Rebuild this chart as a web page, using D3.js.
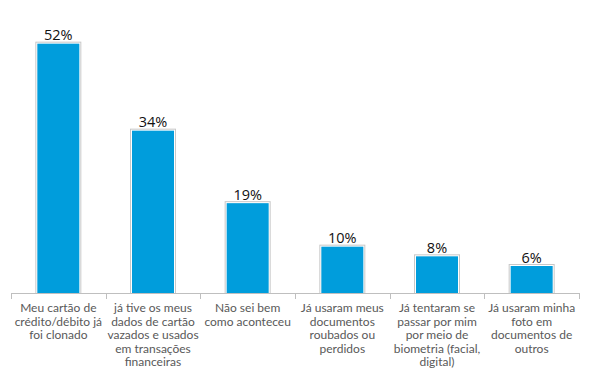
<!DOCTYPE html>
<html><head><meta charset="utf-8">
<script src="https://cdn.jsdelivr.net/npm/d3@7"></script>
<style>body{margin:0;background:#fff}</style>
</head><body>
<svg id="c" width="600" height="388"></svg>
<script>
const categories = [
  ["Meu cartão de","crédito/débito já","foi clonado"],
  ["já tive os meus","dados de cartão","vazados e usados","em transações","financeiras"],
  ["Não sei bem","como aconteceu"],
  ["Já usaram meus","documentos","roubados ou","perdidos"],
  ["Já tentaram se","passar por mim","por meio de","biometria (facial,","digital)"],
  ["Já usaram minha","foto em","documentos de","outros"]
];
const values = [52, 34, 19, 10, 8, 6];
const valueLabels = ["52%","34%","19%","10%","8%","6%"];

const svg = d3.select("#c");
const x = d3.scaleBand().domain(d3.range(values.length)).range([11, 579]).paddingInner(0).paddingOuter(0);
const y = d3.scaleLinear().domain([0, 60]).range([293, 3]);
const bw = 46;

const g = svg.append("g");
values.forEach((v, i) => {
  const cx = x(i) + x.bandwidth() / 2;
  g.append("rect").attr("x", cx - bw/2 + 0.5).attr("y", y(v) + 0.5)
    .attr("width", bw - 1).attr("height", y(0) - y(v))
    .attr("fill", "#fff").attr("stroke", "#c8c8c8").attr("stroke-width", 1);
  g.append("rect").attr("x", cx - bw/2 + 2).attr("y", y(v) + 2)
    .attr("width", bw - 4).attr("height", y(0) - y(v) - 2)
    .attr("fill", "#009ddc");
  g.append("text").attr("x", cx).attr("y", y(v) - 1.5)
    .attr("text-anchor", "middle").attr("font-family", "'Open Sans', sans-serif")
    .attr("font-size", 14.5).attr("fill", "#111").text(valueLabels[i]);
});

// axis
const ax = svg.append("g");
ax.append("line").attr("x1", 11).attr("x2", 579).attr("y1", 293.5).attr("y2", 293.5)
  .attr("stroke", "#bfbfbf").attr("stroke-width", 1);
const ticks = d3.range(values.length + 1).map(i => i === values.length ? 579 : x(i));
ticks.forEach(t => {
  ax.append("line").attr("x1", Math.round(t) + 0.5).attr("x2", Math.round(t) + 0.5)
    .attr("y1", 293).attr("y2", 299).attr("stroke", "#bfbfbf");
});

categories.forEach((lines, i) => {
  const cx = x(i) + x.bandwidth() / 2;
  const t = svg.append("text").attr("text-anchor", "middle")
    .attr("font-family", "Lato, 'Open Sans', sans-serif").attr("font-size", 12)
    .attr("fill", "#595959");
  lines.forEach((l, k) => {
    t.append("tspan").attr("x", cx).attr("y", 312 + k * 13.5).text(l);
  });
});
</script>
</body></html>
